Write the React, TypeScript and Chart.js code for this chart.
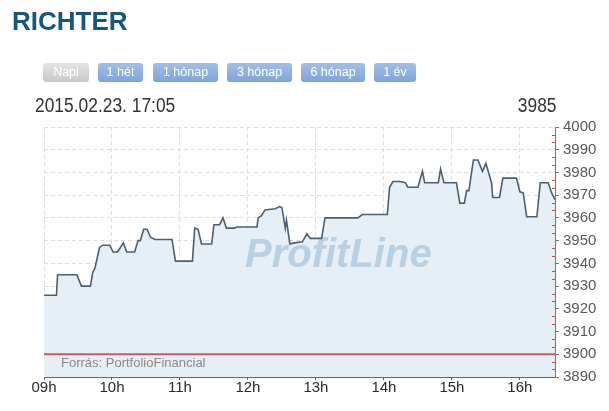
import React, { useEffect, useRef } from "react";
import { Chart, registerables } from "chart.js";

Chart.register(...registerables);

const TITLE = "RICHTER";
const BUTTONS = ["Napi", "1 hét", "1 hónap", "3 hónap", "6 hónap", "1 év"];
const DATE_TEXT = "2015.02.23. 17:05";
const LAST_VALUE = "3985";
const SOURCE = "Forrás: PortfolioFinancial";
const WATERMARK = "ProfitLine";

const TIMES = [
  "09:00", "09:11", "09:12", "09:29", "09:33", "09:41", "09:43", "09:45", "09:49", "09:52",
  "09:58", "10:01", "10:05", "10:10", "10:13", "10:20", "10:23", "10:25", "10:28", "10:31",
  "10:34", "10:38", "10:53", "10:56", "11:11", "11:13", "11:16", "11:19", "11:28", "11:30",
  "11:35", "11:38", "11:41", "11:48", "11:50", "12:08", "12:09", "12:12", "12:15", "12:24",
  "12:28", "12:30", "12:33", "12:34", "12:37", "12:41", "12:48", "12:52", "12:55", "13:05",
  "13:08", "13:37", "13:41", "14:03", "14:05", "14:08", "14:14", "14:19", "14:21", "14:30",
  "14:34", "14:36", "14:48", "14:50", "14:53", "15:04", "15:07", "15:11", "15:13", "15:15",
  "15:19", "15:23", "15:27", "15:30", "15:35", "15:36", "15:42", "15:45", "15:57", "16:00",
  "16:03", "16:06", "16:15", "16:18", "16:25", "16:28", "16:31",
];
const VALUES = [
  3926, 3926, 3935, 3935, 3930, 3930, 3936, 3938, 3947, 3948,
  3948, 3945, 3945, 3949, 3945, 3945, 3950, 3950, 3955, 3955,
  3951.5, 3950.5, 3950.5, 3941, 3941, 3955.5, 3955, 3948.5, 3948.5, 3957,
  3957, 3960, 3955.5, 3955.5, 3956, 3956, 3960, 3961, 3963.5, 3964,
  3965, 3964.5, 3955.5, 3959, 3948.5, 3949, 3949.5, 3953, 3951, 3951,
  3960, 3960, 3961.5, 3961.5, 3973.5, 3976, 3976, 3975.5, 3973.5, 3973.5,
  3980.5, 3975.5, 3975.5, 3981.5, 3975.5, 3975.5, 3966.5, 3966.5, 3972, 3972,
  3985.5, 3985.5, 3980.5, 3984, 3975.5, 3969, 3969, 3977.5, 3977.5, 3971.5,
  3971, 3960.5, 3960.5, 3975.5, 3975.5, 3971, 3968,
];
const PREV_CLOSE = 3900;
const HOUR_TICKS = ["09:00", "10:00", "11:00", "12:00", "13:00", "14:00", "15:00", "16:00"];
const X_END = "16:31";
const Y_MIN = 3890;
const Y_MAX = 4000;
const Y_STEP = 10;

const FONT = "'Liberation Sans', Arial, sans-serif";

const toMin = (t: string) => {
  const [h, m] = t.split(":").map(Number);
  return (h - 9) * 60 + m;
};

const BTN_POS = [
  [43, 46], [98, 45], [153, 65], [227, 65], [301, 64], [374, 42],
];

export default function App() {
  const ref = useRef<HTMLCanvasElement | null>(null);

  useEffect(() => {
    if (!ref.current) return;
    const xMax = toMin(X_END);
    const pts = TIMES.map((t, i) => ({ x: toMin(t), y: VALUES[i] }));

    const decor = {
      id: "decor",
      beforeDatasetsDraw(chart: any) {
        const { ctx, chartArea } = chart;
        ctx.save();
        ctx.beginPath();
        ctx.rect(chartArea.left, chartArea.top, chartArea.right - chartArea.left, chartArea.bottom - chartArea.top);
        ctx.clip();
        ctx.font = `italic bold 40px ${FONT}`;
        ctx.fillStyle = "rgba(178,204,224,0.9)";
        ctx.textBaseline = "alphabetic";
        ctx.fillText(WATERMARK, 245, 267);
        ctx.restore();
      },
      afterDraw(chart: any) {
        const { ctx, chartArea } = chart;
        const y = chart.scales.y;
        ctx.save();
        ctx.strokeStyle = "#d24b4b";
        ctx.lineWidth = 1;
        for (let v = Y_MIN; v < Y_MAX; v += Y_STEP) {
          for (const f of [1 / 3, 2 / 3]) {
            const py = Math.round(y.getPixelForValue(v + f * Y_STEP)) + 0.5;
            ctx.beginPath();
            ctx.moveTo(chartArea.right - 3, py);
            ctx.lineTo(chartArea.right, py);
            ctx.stroke();
          }
        }
        ctx.restore();
      },
    };

    const chart = new Chart(ref.current, {
      type: "line",
      data: {
        datasets: [
          {
            data: pts,
            borderColor: "#4b6072",
            borderWidth: 1.6,
            backgroundColor: "#e6eef6",
            fill: "start",
            pointRadius: 0,
            tension: 0,
          },
          {
            data: [{ x: 0, y: PREV_CLOSE }, { x: xMax, y: PREV_CLOSE }],
            borderColor: "#cf5a5e",
            borderWidth: 2,
            fill: false,
            pointRadius: 0,
          },
        ],
      },
      options: {
        animation: false,
        responsive: false,
        events: [],
        layout: { padding: { left: 44, top: 127, right: 0, bottom: 0 } },
        plugins: {
          legend: { display: false },
          tooltip: { enabled: false },
          filler: { drawTime: "beforeDatasetsDraw" },
        } as any,
        scales: {
          x: {
            type: "linear",
            min: 0,
            max: xMax,
            afterFit: (s: any) => { s.height = 34; },
            afterBuildTicks: (s: any) => { s.ticks = HOUR_TICKS.map((t) => ({ value: toMin(t) })); },
            ticks: {
              padding: 0,
              maxRotation: 0,
              color: "#2a2a2a",
              font: { family: FONT, size: 15, lineHeight: 1 },
              callback: (v: any) => `${String(9 + Math.round(Number(v) / 60)).padStart(2, "0")}h`,
            },
            grid: {
              color: "#dedede",
              tickColor: "#666",
              tickLength: 3,
              drawTicks: true,
            },
            border: { display: true, color: "#666", width: 1, dash: [4, 3] },
          },
          y: {
            type: "linear",
            position: "right",
            min: Y_MIN,
            max: Y_MAX,
            afterFit: (s: any) => { s.width = 54; },
            ticks: {
              stepSize: Y_STEP,
              padding: 4,
              color: "#5a5a5a",
              font: { family: FONT, size: 15 },
              callback: (v: any) => String(v),
            },
            grid: {
              color: "#dedede",
              tickColor: "#777",
              tickLength: 4,
              drawTicks: true,
            },
            border: { display: true, color: "#777", width: 1, dash: [4, 3] },
          },
        },
      },
      plugins: [decor],
    } as any);

    return () => chart.destroy();
  }, []);

  return (
    <div style={{ position: "absolute", left: 0, top: 0, width: 609, height: 411, background: "#fff", fontFamily: FONT, overflow: "hidden" }}>
      <canvas ref={ref} width={609} height={411} style={{ position: "absolute", left: 0, top: 0, width: 609, height: 411 }} />
      <div style={{ position: "absolute", left: 12, top: 6, fontSize: 26, lineHeight: "30px", fontWeight: "bold", color: "#165780" }}>
        {TITLE}
      </div>
      {BUTTONS.map((b, i) => (
        <div
          key={b}
          style={{
            position: "absolute",
            left: BTN_POS[i][0],
            top: 63,
            width: BTN_POS[i][1],
            height: 19,
            lineHeight: "19px",
            borderRadius: 3,
            textAlign: "center",
            fontSize: 12.5,
            color: "#fff",
            background: i === 0 ? "linear-gradient(#e4e4e4, #c9c9c9)" : "linear-gradient(#a0bfea, #7ea4dc)",
            whiteSpace: "nowrap",
          }}
        >
          {b}
        </div>
      ))}
      <div style={{ position: "absolute", left: 35, top: 95, fontSize: 20, lineHeight: "20px", color: "#333", transform: "scaleX(0.87)", transformOrigin: "left center", whiteSpace: "nowrap" }}>
        {DATE_TEXT}
      </div>
      <div style={{ position: "absolute", right: 609 - 556, top: 95, fontSize: 20, lineHeight: "20px", color: "#333", transform: "scaleX(0.87)", transformOrigin: "right center", whiteSpace: "nowrap" }}>
        {LAST_VALUE}
      </div>
      <div style={{ position: "absolute", left: 61, top: 355, fontSize: 13, lineHeight: "15px", color: "#8a8a8a", whiteSpace: "nowrap" }}>
        {SOURCE}
      </div>
    </div>
  );
}
